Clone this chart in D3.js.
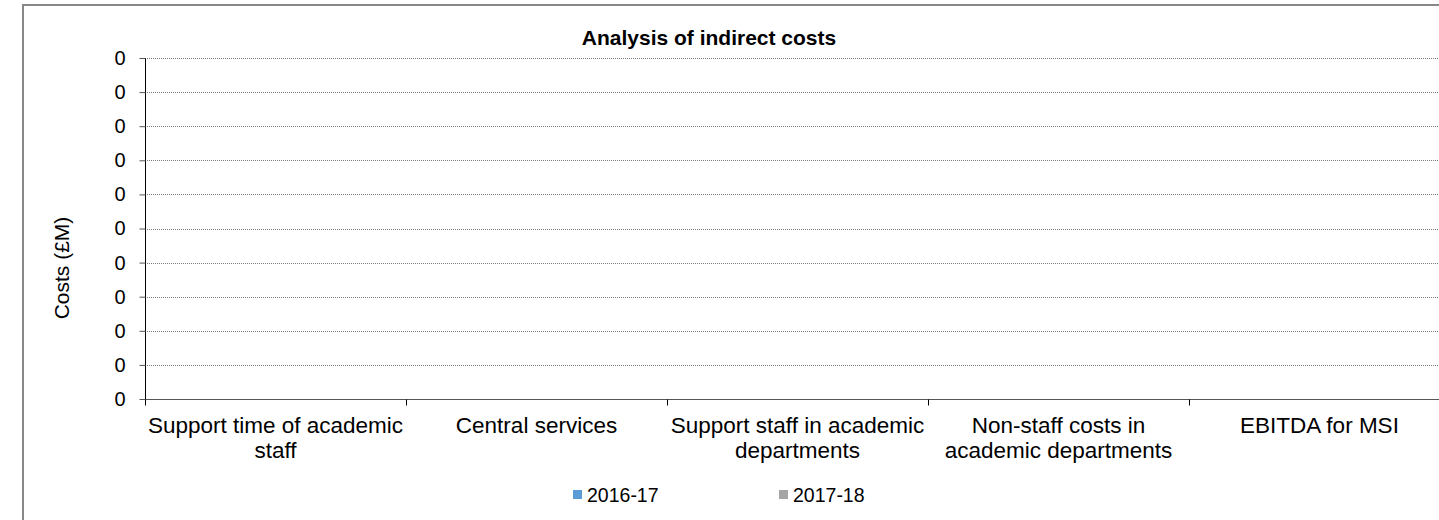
<!DOCTYPE html>
<html>
<head>
<meta charset="utf-8">
<script src="https://cdn.jsdelivr.net/npm/d3@7"></script>
<style>
  html, body { margin: 0; padding: 0; background: #fff; }
  svg { display: block; }
  text { font-family: "Liberation Sans", Arial, sans-serif; fill: #000; }
</style>
</head>
<body>
<svg id="chart" width="1439" height="520"></svg>
<script>
const title = "Analysis of indirect costs";
const yAxisLabel = "Costs (£M)";
const categories = [
  "Support time of academic staff",
  "Central services",
  "Support staff in academic departments",
  "Non-staff costs in academic departments",
  "EBITDA for MSI"
];
const seriesNames = ["2016-17", "2017-18"];
const values2016 = [0, 0, 0, 0, 0];
const values2017 = [0, 0, 0, 0, 0];
const yTickValues = [0, 0.1, 0.2, 0.3, 0.4, 0.5, 0.6, 0.7, 0.8, 0.9, 1.0];
const yTickLabels = ["0", "0", "0", "0", "0", "0", "0", "0", "0", "0", "0"];
const colors = ["#5B9BD5", "#A5A5A5"];

const svg = d3.select("#chart");
const W = 1439, H = 520;
const margin = { left: 145, top: 58, bottom: 399 };
const bandW = 261;

// outer frame
svg.append("rect")
  .attr("x", 23).attr("y", 5)
  .attr("width", W + 20).attr("height", H + 20)
  .attr("fill", "none").attr("stroke", "#888").attr("stroke-width", 2);

const x = d3.scaleBand()
  .domain(categories)
  .range([margin.left, margin.left + bandW * categories.length])
  .paddingInner(0.4).paddingOuter(0.2);

const y = d3.scaleLinear().domain([0, 1]).range([margin.bottom, margin.top]);

// gridlines
svg.append("g")
  .selectAll("line")
  .data(yTickValues.slice(1))
  .join("line")
  .attr("x1", margin.left).attr("x2", W)
  .attr("y1", d => Math.round(y(d)) + 0.5).attr("y2", d => Math.round(y(d)) + 0.5)
  .attr("stroke", "#7a7a7a").attr("stroke-width", 1)
  .attr("stroke-dasharray", "1,1");

// bars (all zero)
const x1 = d3.scaleBand().domain(seriesNames).range([0, x.bandwidth()]).padding(0.05);
const seriesData = [values2016, values2017];
seriesData.forEach((vals, si) => {
  svg.append("g").selectAll("rect")
    .data(vals)
    .join("rect")
    .attr("x", (d, i) => x(categories[i]) + x1(seriesNames[si]))
    .attr("width", x1.bandwidth())
    .attr("y", d => y(d))
    .attr("height", d => y(0) - y(d))
    .attr("fill", colors[si]);
});

// y axis
const yAxis = d3.axisLeft(y)
  .tickValues(yTickValues)
  .tickFormat((d, i) => yTickLabels[i])
  .tickSize(6).tickPadding(14);
const gy = svg.append("g")
  .attr("transform", `translate(${margin.left + 0.5},0)`)
  .call(yAxis);
gy.select(".domain").attr("stroke", "#000").attr("d", `M0,${margin.top}V${margin.bottom}`);
gy.selectAll(".tick line").attr("stroke", "#555");
gy.selectAll(".tick text")
  .style("font-family", '"Liberation Sans", Arial, sans-serif')
  .style("font-size", "20px").attr("fill", "#000");

// x axis
const xEdge = d3.scaleLinear().domain([0, categories.length]).range([margin.left, margin.left + bandW * categories.length]);
const gx = svg.append("g").attr("transform", `translate(0,${margin.bottom + 0.5})`);
gx.append("line")
  .attr("x1", margin.left).attr("x2", W)
  .attr("stroke", "#555").attr("stroke-width", 1.2);
gx.selectAll(".xt")
  .data(d3.range(categories.length))
  .join("line")
  .attr("class", "xt")
  .attr("x1", d => Math.round(xEdge(d)) + 0.5).attr("x2", d => Math.round(xEdge(d)) + 0.5)
  .attr("y1", 0).attr("y2", 6)
  .attr("stroke", "#000");

// category labels, wrapped
function wrapLines(text, width, fontSize) {
  const words = text.split(" ");
  const meas = svg.append("text").style("font-size", fontSize + "px");
  const lines = [];
  let cur = [];
  words.forEach(w => {
    const test = cur.concat([w]).join(" ");
    meas.text(test);
    if (meas.node().getComputedTextLength() > width && cur.length) {
      lines.push(cur.join(" "));
      cur = [w];
    } else {
      cur.push(w);
    }
  });
  if (cur.length) lines.push(cur.join(" "));
  meas.remove();
  return lines;
}
const catFont = 22.5;
categories.forEach((c, i) => {
  const cx = x(c) + x.bandwidth() / 2;
  const lines = wrapLines(c, bandW + 8, catFont);
  const t = svg.append("text")
    .attr("text-anchor", "middle")
    .style("font-size", catFont + "px");
  lines.forEach((l, li) => {
    t.append("tspan").attr("x", cx).attr("y", 433 + li * 25).text(l);
  });
});

// title
svg.append("text")
  .attr("x", 709).attr("y", 45)
  .attr("text-anchor", "middle")
  .style("font-size", "21px").style("font-weight", "bold")
  .text(title);

// y label
svg.append("text")
  .attr("transform", "translate(69,268) rotate(-90)")
  .attr("text-anchor", "middle")
  .style("font-size", "21px")
  .text(yAxisLabel);

// legend
const legendX = [573, 779];
seriesNames.forEach((s, i) => {
  svg.append("rect")
    .attr("x", legendX[i]).attr("y", 490)
    .attr("width", 9).attr("height", 9)
    .attr("fill", colors[i]);
  svg.append("text")
    .attr("x", legendX[i] + 14).attr("y", 502)
    .style("font-size", "19.5px")
    .text(s);
});
</script>
</body>
</html>
